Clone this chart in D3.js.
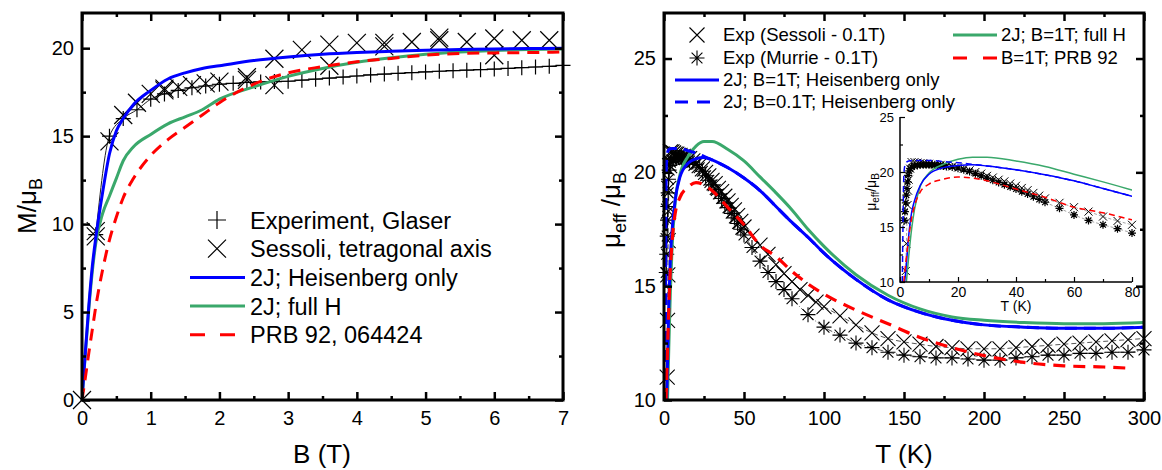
<!DOCTYPE html>
<html><head><meta charset="utf-8">
<script src="https://cdn.jsdelivr.net/npm/d3@7"></script>
<style>
body{margin:0;background:#fff;}
svg{display:block;font-family:"Liberation Sans",Arial,Helvetica,sans-serif;}
</style></head><body>
<svg id="chart" width="1162" height="470"></svg>
<script>
// ---------- LEFT PANEL DATA: M vs B ----------
const fieldB = [0,0.05,0.1,0.15,0.2,0.3,0.4,0.5,0.6,0.75,1,1.25,1.5,1.75,2,2.5,3,3.5,4,4.5,5,5.5,6,6.5,7];
const magHeis = [0,2.8,5.4,7.6,9.2,11.8,14.0,15.3,16.0,16.8,17.6,18.25,18.6,18.85,19.0,19.3,19.5,19.65,19.75,19.82,19.88,19.92,19.95,19.98,20.0];
const magFull = [0,2.7,5.2,7.3,8.9,10.6,11.6,12.6,13.6,14.4,15.1,15.7,16.1,16.5,17.1,17.8,18.4,18.85,19.2,19.45,19.65,19.78,19.87,19.92,19.95];
const magPRB  = [0,1.3,2.7,4.0,5.3,7.4,9.1,10.4,11.5,12.6,13.9,14.8,15.5,16.2,16.9,17.95,18.6,18.95,19.23,19.42,19.6,19.7,19.73,19.75,19.78];
const glaserB = [0.2,0.4,0.6,0.8,1.0,1.2,1.4,1.6,1.8,2.0,2.2,2.4,2.6,2.8,3.0,3.2,3.4,3.6,3.8,4.0,4.2,4.4,4.6,4.8,5.0,5.2,5.4,5.6,5.8,6.0,6.2,6.4,6.6,6.8,7.0];
const glaserM = [9.4,15.0,16.0,16.5,17.1,17.4,17.6,17.75,17.85,17.95,18.0,18.05,18.08,18.1,18.12,18.18,18.24,18.3,18.36,18.42,18.48,18.53,18.57,18.61,18.65,18.69,18.72,18.75,18.78,18.81,18.85,18.89,18.93,18.97,19.02];
const sessB = [0,0.2,0.2,0.4,0.6,0.8,1.0,1.2,1.2,1.4,1.6,1.8,2.0,2.4,2.4,2.8,2.8,3.2,3.6,3.6,4.0,4.4,4.4,4.8,5.2,5.2,5.6,6.0,6.0,6.4,6.8];
const sessM = [0,9.3,9.6,14.7,16.2,16.9,17.4,17.6,17.7,17.8,17.9,18.0,18.1,18.2,18.35,19.4,17.9,19.9,20.2,19.0,20.3,20.3,20.1,20.35,20.6,20.45,20.35,20.55,19.6,20.45,20.45];
const leftXTicks = [0,1,2,3,4,5,6,7];
const leftYTicks = [0,5,10,15,20];

// ---------- RIGHT PANEL DATA: mu_eff vs T ----------
const tempBlue = [1.6,2,3,4,5,7,10,15,20,25,30,40,50,60,70,80,90,100,120,140,160,180,200,225,250,275,300];
const muHeis1T = [10.0,11.0,14.2,16.3,17.4,18.8,19.8,20.4,20.6,20.65,20.55,20.2,19.75,19.2,18.5,17.8,17.15,16.45,15.3,14.4,13.85,13.5,13.3,13.2,13.15,13.15,13.2];
const tempGreen = [2.2,3,4,5,7,10,15,20,25,30,40,50,60,70,80,90,100,120,140,160,180,200,225,250,275,300];
const muFull1T = [10.0,12.3,14.8,16.6,18.7,19.9,20.7,21.15,21.35,21.35,21.0,20.5,19.8,19.1,18.35,17.5,16.75,15.5,14.6,14.0,13.65,13.5,13.4,13.35,13.35,13.4];
const tempDash = [0.8,1.0,1.2,1.5,2,3,5,10,15,20,25,30,40,50,60,70,80,90,100,120,140,160,180,200,225,250,275,300];
const muHeis01T = [10.0,14.5,18.5,20.3,20.8,21.0,21.05,21.05,20.95,20.85,20.7,20.55,20.2,19.75,19.2,18.5,17.8,17.15,16.45,15.3,14.4,13.85,13.5,13.3,13.2,13.15,13.15,13.2];
const tempPRB = [1.3,2,3,4,5,7,10,15,20,25,30,40,50,60,70,80,90,100,120,140,160,180,200,225,250,275,290];
const muPRB = [10.0,11.8,14.0,15.8,16.9,18.2,18.9,19.35,19.55,19.45,19.2,18.45,17.7,16.8,16.3,15.65,15.1,14.65,13.95,13.35,12.75,12.3,11.95,11.65,11.5,11.45,11.4];
const tempMurrie = [1.4,1.7,2.0,2.2,2.4,2.6,2.8,3.2,3.6,4,5,6,7,8,9,10,11,12,13,14,15,16,18,20,22,24,26,28,30,32,34,36,38,40,42,44,46,48,50,55,60,65,70,75,80,90,100,110,120,130,140,150,160,170,180,190,200,210,220,230,240,250,260,270,280,290,300];
const muMurrie = [15.6,16.4,17.2,17.9,18.5,19.1,19.7,20.1,20.3,20.45,20.55,20.6,20.65,20.65,20.65,20.65,20.65,20.65,20.6,20.6,20.55,20.5,20.45,20.35,20.2,20.05,19.85,19.65,19.45,19.25,19.05,18.85,18.65,18.45,18.2,18.0,17.75,17.5,17.25,16.7,16.1,15.6,15.2,14.85,14.45,13.75,13.2,12.85,12.5,12.3,12.1,11.97,11.9,11.85,11.85,11.8,11.75,11.75,11.85,11.9,11.97,11.97,12.05,12.05,12.1,12.1,12.2];
const tempSess = [2.0,2.2,2.4,2.6,2.8,3.0,3.5,4,5,6,7,8,9,10,12,14,16,18,20,22,24,26,28,30,32,34,36,38,40,42,44,46,48,50,55,60,65,70,75,80,85,90,95,100,110,120,130,140,150,160,170,180,190,200,210,220,230,240,250,260,270,280,290,300];
const muSess = [11.0,13.5,15.5,17.0,18.3,19.3,20.3,20.9,20.9,20.85,20.8,20.8,20.75,20.75,20.7,20.65,20.6,20.5,20.4,20.3,20.15,20.0,19.85,19.65,19.5,19.3,19.15,18.95,18.75,18.55,18.35,18.1,17.85,17.6,17.2,16.8,16.4,15.95,15.55,15.2,14.85,14.6,14.3,14.1,13.7,13.3,12.95,12.7,12.55,12.45,12.35,12.3,12.25,12.25,12.25,12.3,12.35,12.4,12.45,12.5,12.55,12.6,12.65,12.7];
const rightXTicks = [0,50,100,150,200,250,300];
const rightYTicks = [10,15,20,25];
const insetXTicks = [0,20,40,60,80];
const insetYTicks = [10,15,20,25];

// ---------- STYLE ----------
const FONT = '"Liberation Sans", Arial, Helvetica, sans-serif';
const BLUE = "#0000ff", GREEN = "#3aa86b", RED = "#ff0000";
const svg = d3.select("#chart");

const zip = (xs, ys) => xs.map((v, i) => [v, ys[i]]);
function sym(kind, s) {
  const h = s / 2;
  if (kind === "plus") return `M${-h},0H${h}M0,${-h}V${h}`;
  if (kind === "cross") return `M${-h},${-h}L${h},${h}M${-h},${h}L${h},${-h}`;
  const d = h * 0.72;
  return `M${-h},0H${h}M0,${-h}V${h}M${-d},${-d}L${d},${d}M${-d},${d}L${d},${-d}`;
}
function minorOf(major) {
  const out = [];
  for (let i = 0; i < major.length - 1; i++) out.push((major[i] + major[i + 1]) / 2);
  return out;
}

function drawAxes(g, x, y, c) {
  const [x0, x1] = x.range(), [y0, y1] = y.range();
  const st = (fs) => (s) => {
    s.select(".domain").remove();
    s.selectAll(".tick line").attr("stroke", "#000").attr("stroke-width", c.tw);
    s.selectAll(".tick text").attr("font-size", fs).attr("font-family", FONT).attr("fill", "#000");
  };
  const xMin = c.xMinor || minorOf(c.xMajor), yMin = c.yMinor || minorOf(c.yMajor);
  g.append("g").attr("transform", `translate(0,${y0})`)
    .call(d3.axisBottom(x).tickValues(c.xMajor).tickSize(-c.major).tickSizeOuter(0).tickPadding(c.xPad).tickFormat(d => d)).call(st(c.font));
  g.append("g").attr("transform", `translate(0,${y0})`)
    .call(d3.axisBottom(x).tickValues(xMin).tickSize(-c.minor).tickSizeOuter(0).tickFormat(() => "")).call(st(c.font));
  g.append("g").attr("transform", `translate(${x0},0)`)
    .call(d3.axisLeft(y).tickValues(c.yMajor).tickSize(-c.major).tickSizeOuter(0).tickPadding(c.yPad).tickFormat(d => d)).call(st(c.yFont || c.font));
  g.append("g").attr("transform", `translate(${x0},0)`)
    .call(d3.axisLeft(y).tickValues(yMin).tickSize(-c.minor).tickSizeOuter(0).tickFormat(() => "")).call(st(c.font));
  if (c.mirror) {
    g.append("g").attr("transform", `translate(0,${y1})`)
      .call(d3.axisTop(x).tickValues(c.xMajor).tickSize(-c.major).tickSizeOuter(0).tickFormat(() => "")).call(st(c.font));
    g.append("g").attr("transform", `translate(0,${y1})`)
      .call(d3.axisTop(x).tickValues(xMin).tickSize(-c.minor).tickSizeOuter(0).tickFormat(() => "")).call(st(c.font));
    g.append("g").attr("transform", `translate(${x1},0)`)
      .call(d3.axisRight(y).tickValues(c.yMajor).tickSize(-c.major).tickSizeOuter(0).tickFormat(() => "")).call(st(c.font));
    g.append("g").attr("transform", `translate(${x1},0)`)
      .call(d3.axisRight(y).tickValues(yMin).tickSize(-c.minor).tickSizeOuter(0).tickFormat(() => "")).call(st(c.font));
    g.append("rect").attr("x", x0).attr("y", y1).attr("width", x1 - x0).attr("height", y0 - y1)
      .attr("fill", "none").attr("stroke", "#000").attr("stroke-width", c.fw);
  } else {
    g.append("path").attr("d", `M${x0},${y1}V${y0}H${x1}`).attr("fill", "none")
      .attr("stroke", "#000").attr("stroke-width", c.fw);
  }
}

function clip(id, x, y) {
  const [x0, x1] = x.range(), [y0, y1] = y.range();
  svg.append("clipPath").attr("id", id).append("rect")
    .attr("x", x0).attr("y", y1).attr("width", x1 - x0).attr("height", y0 - y1);
}

function curve(g, x, y, pts, color, width, dash, clipId) {
  const line = d3.line().x(d => x(d[0])).y(d => y(d[1])).curve(d3.curveMonotoneX);
  const p = g.append("path").attr("d", line(pts)).attr("fill", "none")
    .attr("stroke", color).attr("stroke-width", width).attr("stroke-linejoin", "round");
  if (dash) p.attr("stroke-dasharray", dash);
  if (clipId) p.attr("clip-path", `url(#${clipId})`);
  return p;
}
function markers(g, x, y, pts, kind, size, width) {
  g.append("g").selectAll("path").data(pts).join("path")
    .attr("transform", d => `translate(${x(d[0])},${y(d[1])})`)
    .attr("d", sym(kind, size)).attr("fill", "none").attr("stroke", "#000").attr("stroke-width", width);
}

// ================= LEFT PANEL =================
const xL = d3.scaleLinear().domain([0, 7]).range([82, 563]);
const yL = d3.scaleLinear().domain([0, 22]).range([400, 13]);
clip("clipL", xL, yL);
const gL = svg.append("g");

curve(gL, xL, yL, zip(glaserB, glaserM), "#222", 1, null, null);
markers(gL, xL, yL, zip(glaserB, glaserM), "plus", 15, 1.2);
markers(gL, xL, yL, zip(sessB, sessM), "cross", 18, 1.2);
curve(gL, xL, yL, zip(fieldB, magFull), GREEN, 3, null, "clipL");
curve(gL, xL, yL, zip(fieldB, magHeis), BLUE, 3, null, "clipL");
curve(gL, xL, yL, zip(fieldB, magPRB), RED, 3, "12,8", "clipL");

drawAxes(gL, xL, yL, {xMajor: leftXTicks, yMajor: leftYTicks, major: 8, minor: 4, tw: 2.5, fw: 3,
  font: 20, xPad: 11, yPad: 8, mirror: true});

// left legend
const legL = svg.append("g").attr("font-family", FONT).attr("font-size", 23.5);
const legLRows = [
  {sym: "plus", label: "Experiment, Glaser"},
  {sym: "cross", label: "Sessoli, tetragonal axis"},
  {color: BLUE, label: "2J; Heisenberg only"},
  {color: GREEN, label: "2J; full H"},
  {color: RED, dash: "15,15", label: "PRB 92, 064424"}
];
legLRows.forEach((r, i) => {
  const cy = 220 + i * 28.7;
  if (r.sym) {
    legL.append("path").attr("transform", `translate(217,${cy})`).attr("d", sym(r.sym, 18))
      .attr("fill", "none").attr("stroke", "#000").attr("stroke-width", 1.2);
  } else {
    const l = legL.append("line").attr("x1", 190).attr("x2", 245).attr("y1", cy).attr("y2", cy)
      .attr("stroke", r.color).attr("stroke-width", 3);
    if (r.dash) l.attr("stroke-dasharray", r.dash);
  }
  legL.append("text").attr("x", 250).attr("y", cy + 8.5).text(r.label);
});

// left titles
svg.append("text").attr("x", 322).attr("y", 463).attr("text-anchor", "middle")
  .attr("font-size", 26).attr("font-family", FONT).text("B (T)");
const tyL = svg.append("text").attr("transform", "translate(36,206) rotate(-90)")
  .attr("text-anchor", "middle").attr("font-size", 26).attr("font-family", FONT);
tyL.append("tspan").text("M/μ");
tyL.append("tspan").attr("font-size", 18).attr("dy", 6).text("B");

// ================= RIGHT PANEL =================
const xR = d3.scaleLinear().domain([0, 300]).range([664, 1144]);
const yR = d3.scaleLinear().domain([10, 27]).range([400, 13]);
clip("clipR", xR, yR);
const gR = svg.append("g");

const sessPts = zip(tempSess, muSess), murPts = zip(tempMurrie, muMurrie);
curve(gR, xR, yR, sessPts, "#444", 0.9, "5,3", "clipR");
curve(gR, xR, yR, murPts, "#444", 0.9, "6,2,1,2", "clipR");
markers(gR, xR, yR, sessPts, "cross", 15, 1.1);
markers(gR, xR, yR, murPts, "star", 15, 1.1);
curve(gR, xR, yR, zip(tempGreen, muFull1T), GREEN, 3, null, "clipR");
curve(gR, xR, yR, zip(tempBlue, muHeis1T), BLUE, 3, null, "clipR");
curve(gR, xR, yR, zip(tempDash, muHeis01T), BLUE, 3, "12,7", "clipR");
curve(gR, xR, yR, zip(tempPRB, muPRB), RED, 3.2, "12,8", "clipR");

drawAxes(gR, xR, yR, {xMajor: rightXTicks, yMajor: rightYTicks, major: 8, minor: 4, tw: 2.5, fw: 3,
  font: 20, xPad: 11, yPad: 8, mirror: true});

// right legend
const legR = svg.append("g").attr("font-family", FONT).attr("font-size", 18.5);
const legRRows = [
  {x: 675, y: 35, sym: "cross", label: "Exp (Sessoli - 0.1T)"},
  {x: 675, y: 58, sym: "star", label: "Exp (Murrie - 0.1T)"},
  {x: 675, y: 80, color: BLUE, label: "2J; B=1T; Heisenberg only"},
  {x: 675, y: 102, color: BLUE, dash: "13,9", label: "2J; B=0.1T; Heisenberg only"},
  {x: 953, y: 35, color: GREEN, label: "2J; B=1T; full H"},
  {x: 953, y: 58, color: RED, dash: "14,16", label: "B=1T; PRB 92"}
];
legRRows.forEach(r => {
  if (r.sym) {
    legR.append("path").attr("transform", `translate(${r.x + 22},${r.y})`).attr("d", sym(r.sym, 15))
      .attr("fill", "none").attr("stroke", "#000").attr("stroke-width", 1.1);
  } else {
    const l = legR.append("line").attr("x1", r.x).attr("x2", r.x + 44).attr("y1", r.y).attr("y2", r.y)
      .attr("stroke", r.color).attr("stroke-width", 3);
    if (r.dash) l.attr("stroke-dasharray", r.dash);
  }
  legR.append("text").attr("x", r.x + 48).attr("y", r.y + 6).text(r.label);
});

// right titles
svg.append("text").attr("x", 904).attr("y", 463).attr("text-anchor", "middle")
  .attr("font-size", 26).attr("font-family", FONT).text("T (K)");
const tyR = svg.append("text").attr("transform", "translate(620,210) rotate(-90)")
  .attr("text-anchor", "middle").attr("font-size", 26).attr("font-family", FONT);
tyR.append("tspan").text("μ");
tyR.append("tspan").attr("font-size", 18).attr("dy", 6).text("eff");
tyR.append("tspan").attr("dy", -6).text(" /μ");
tyR.append("tspan").attr("font-size", 18).attr("dy", 6).text("B");

// ================= INSET =================
const xI = d3.scaleLinear().domain([0, 80]).range([900, 1132]);
const yI = d3.scaleLinear().domain([10, 25]).range([282, 117]);
clip("clipI", xI, yI);
const gI = svg.append("g");
const inI = d => d[0] <= 80;
curve(gI, xI, yI, sessPts.filter(inI), "#666", 0.6, "3,2", "clipI");
curve(gI, xI, yI, murPts.filter(inI), "#666", 0.6, "3,2", "clipI");
markers(gI, xI, yI, sessPts.filter(inI), "cross", 8, 1);
markers(gI, xI, yI, murPts.filter(inI), "star", 8, 1.2);
curve(gI, xI, yI, zip(tempGreen, muFull1T), GREEN, 1.5, null, "clipI");
curve(gI, xI, yI, zip(tempBlue, muHeis1T), BLUE, 1.5, null, "clipI");
curve(gI, xI, yI, zip(tempDash, muHeis01T), BLUE, 1.5, "6,4", "clipI");
curve(gI, xI, yI, zip(tempPRB, muPRB), RED, 1.5, "6,4", "clipI");

drawAxes(gI, xI, yI, {xMajor: insetXTicks, yMajor: insetYTicks, major: 5, minor: 3, tw: 1.2, fw: 1.5,
  font: 14, yFont: 13, xPad: 5, yPad: 6, mirror: false});

svg.append("text").attr("x", 1016).attr("y", 311).attr("text-anchor", "middle")
  .attr("font-size", 14).attr("font-family", FONT).text("T (K)");
const tyI = svg.append("text").attr("transform", "translate(876,192) rotate(-90)")
  .attr("text-anchor", "middle").attr("font-size", 14).attr("font-family", FONT);
tyI.append("tspan").text("μ");
tyI.append("tspan").attr("font-size", 10).attr("dy", 3).text("eff");
tyI.append("tspan").attr("dy", -3).text("/μ");
tyI.append("tspan").attr("font-size", 10).attr("dy", 3).text("B");
</script></body></html>
